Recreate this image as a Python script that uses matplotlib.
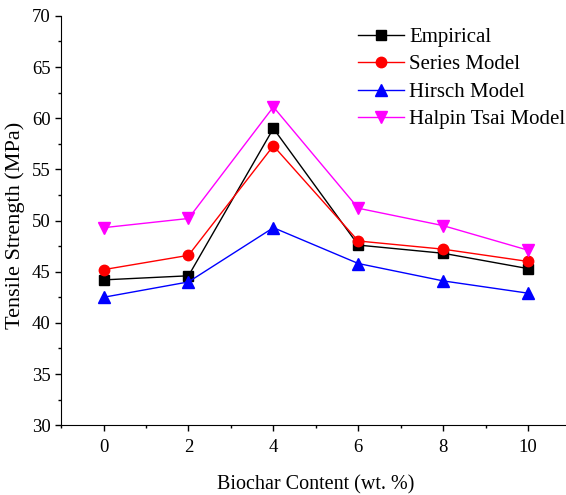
import matplotlib.pyplot as plt
from matplotlib.ticker import MultipleLocator

# Biochar content (wt. %)
biochar = [0, 2, 4, 6, 8, 10]

# Tensile strength (MPa)
empirical = [44.2, 44.6, 59.0, 47.6, 46.8, 45.3]
series_model = [45.2, 46.6, 57.3, 48.0, 47.2, 46.0]
hirsch_model = [42.5, 44.0, 49.3, 45.8, 44.1, 42.9]
halpin_tsai = [49.3, 50.2, 61.1, 51.2, 49.5, 47.1]

plt.rcParams['font.family'] = ['Liberation Serif', 'DejaVu Serif']

fig = plt.figure(figsize=(5.66, 4.95), dpi=100)
ax = fig.add_axes([0.108, 0.141, 0.9, 0.827])

ax.plot(biochar, empirical, color='black', marker='s', markersize=7, lw=1, label='Empirical')
ax.plot(biochar, series_model, color='red', marker='o', markersize=7.5, lw=1, label='Series Model')
ax.plot(biochar, hirsch_model, color='blue', marker='^', markersize=8, lw=1, label='Hirsch Model')
ax.plot(biochar, halpin_tsai, color='magenta', marker='v', markersize=8, lw=1, label='Halpin Tsai Model')

ax.set_xlim(-1, 11)
ax.set_ylim(30, 70)
ax.set_xticks(biochar)
ax.xaxis.set_minor_locator(MultipleLocator(1))
ax.yaxis.set_major_locator(MultipleLocator(5))
ax.yaxis.set_minor_locator(MultipleLocator(2.5))

ax.spines['top'].set_visible(False)
ax.spines['right'].set_visible(False)
ax.tick_params(which='major', direction='out', length=4, width=1, labelsize=13.5)
ax.tick_params(axis='x', which='major', pad=6)
ax.tick_params(which='minor', direction='out', length=2.5, width=1)

ax.set_xlabel('Biochar Content (wt. %)', fontsize=14.5, labelpad=14)
ax.set_ylabel('Tensile Strength (MPa)', fontsize=16)
ax.yaxis.set_label_coords(-0.071, 0.487)

ax.legend(loc='upper right', frameon=False, fontsize=15, handlelength=2.2,
          handletextpad=0.25, labelspacing=0.38, bbox_to_anchor=(1.026, 1.018))

fig.savefig('out.png', dpi=100)
